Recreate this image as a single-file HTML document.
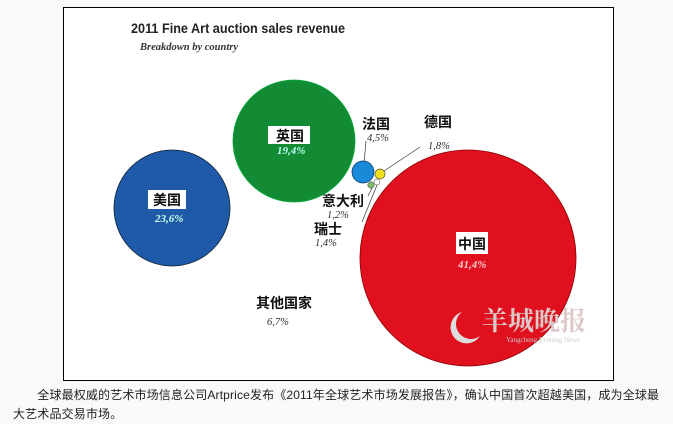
<!DOCTYPE html>
<html><head><meta charset="utf-8"><style>
body{margin:0;width:673px;height:424px;background:#f9f9f9;overflow:hidden;position:relative;font-family:"Liberation Sans","Noto Sans CJK SC",sans-serif}
svg{position:absolute;left:0;top:0}
.cap{position:absolute;left:13px;font-size:12px;color:#222;line-height:19px;top:386px;width:650px;letter-spacing:0.15px}
</style></head><body>
<svg width="673" height="424" xmlns="http://www.w3.org/2000/svg">
<rect x="63.5" y="7.5" width="550" height="373" fill="#fff" stroke="#000" stroke-width="1"/>
<text x="131" y="33" font-family="Liberation Sans,sans-serif" font-weight="bold" font-size="14" fill="#222" textLength="214" lengthAdjust="spacingAndGlyphs">2011 Fine Art auction sales revenue</text>
<text x="140" y="50" font-family="Liberation Serif,serif" font-style="italic" font-weight="bold" font-size="10.5" fill="#333">Breakdown by country</text>
<circle cx="172" cy="208" r="58" fill="#1e5aa8" stroke="#123" stroke-width="0.8"/>
<circle cx="294" cy="141" r="61" fill="#138a34" stroke="#0a3" stroke-width="0.8"/>
<circle cx="468" cy="258" r="108" fill="#e0101e" stroke="#800" stroke-width="0.8"/>
<line x1="364" y1="163" x2="366" y2="141" stroke="#333" stroke-width="0.7"/>
<line x1="381" y1="173" x2="420" y2="147" stroke="#333" stroke-width="0.7"/>
<line x1="377" y1="185" x2="362" y2="222" stroke="#333" stroke-width="0.7"/>
<line x1="373" y1="186" x2="368" y2="196" stroke="#333" stroke-width="0.7"/>
<circle cx="363" cy="172" r="11" fill="#1a8ad8" stroke="#036" stroke-width="0.7"/>
<circle cx="380" cy="174" r="5" fill="#f5e020" stroke="#553" stroke-width="0.7"/>
<circle cx="371" cy="185" r="3.2" fill="#7bbb6a" stroke="#333" stroke-width="0.5"/>
<circle cx="377" cy="182" r="3" fill="#fff" stroke="#333" stroke-width="0.5"/>
<g font-family="Liberation Sans,Noto Sans CJK SC,sans-serif" font-weight="bold" font-size="14" fill="#111">
<rect x="148" y="190" width="38" height="19" fill="#fff"/><text x="153" y="205">美国</text>
<rect x="268" y="126" width="42" height="18" fill="#fff"/><text x="276" y="141">英国</text>
<rect x="456" y="232" width="32" height="22" fill="#fff"/><text x="458" y="249">中国</text>
<text x="362" y="129">法国</text>
<text x="424" y="127">德国</text>
<text x="322" y="206">意大利</text>
<text x="314" y="234">瑞士</text>
<text x="256" y="308">其他国家</text>
</g>
<g font-family="Liberation Serif,serif" font-style="italic" font-weight="bold" font-size="11">
<text x="155" y="222" fill="#cfe">23,6%</text>
<text x="277" y="154" fill="#bfe">19,4%</text>
<text x="458" y="268" fill="#fcc">41,4%</text>
</g>
<g font-family="Liberation Serif,serif" font-style="italic" font-size="10.5" fill="#333">
<text x="367" y="141">4,5%</text>
<text x="428" y="149">1,8%</text>
<text x="327" y="218">1,2%</text>
<text x="315" y="246">1,4%</text>
<text x="267" y="325">6,7%</text>
</g>
<g fill="#dcc8c8" font-family="Noto Serif CJK SC,serif" font-size="26" font-weight="bold">
<text x="482" y="330">羊城晚报</text>
</g>
<path d="M462 312 a16 16 0 1 0 18 24 a13 13 0 1 1 -18 -24z" fill="#ddd"/>
<text x="506" y="342" font-family="Liberation Serif,serif" font-size="7" fill="#ccc">Yangcheng Evening News</text>
</svg>
<div class="cap">　　全球最权威的艺术市场信息公司Artprice发布《2011年全球艺术市场发展报告》，确认中国首次超越美国，成为全球最<br>大艺术品交易市场。</div>
</body></html>
